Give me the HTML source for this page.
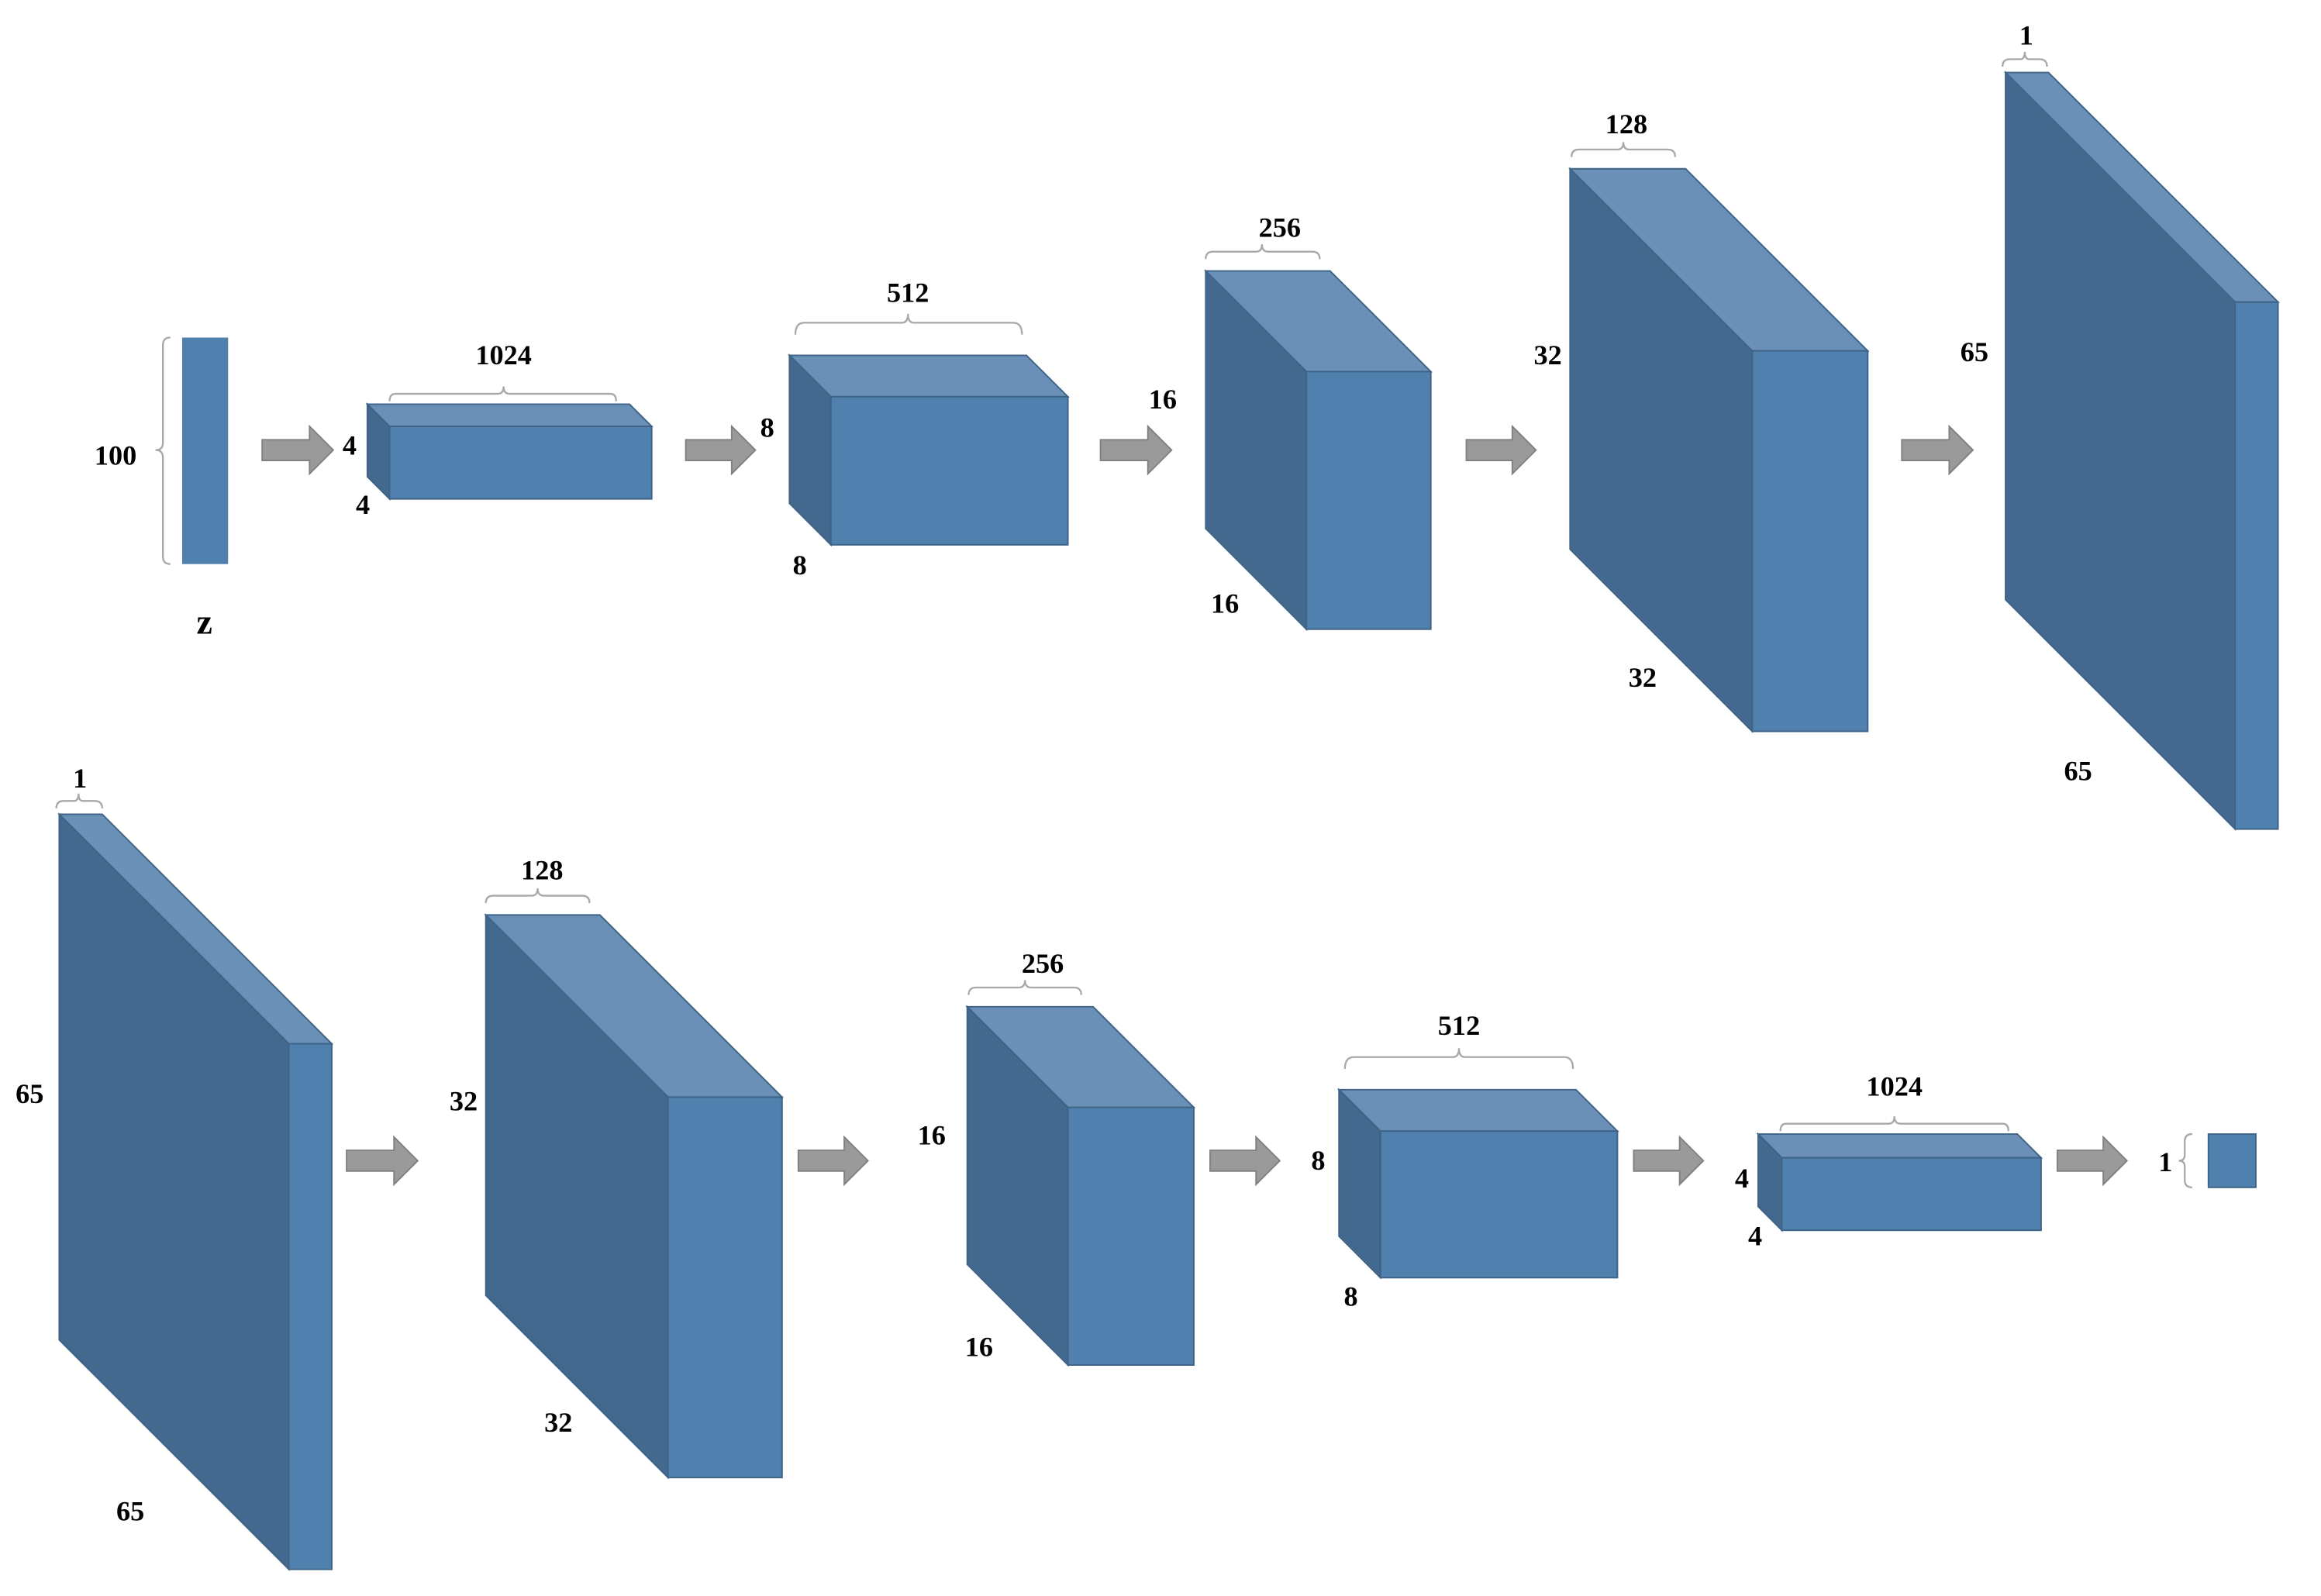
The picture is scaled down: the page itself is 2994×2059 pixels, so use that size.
<!DOCTYPE html>
<html><head><meta charset="utf-8"><style>
html,body{margin:0;padding:0;background:#fff;}
svg{display:block;}
text{font-family:"Liberation Serif",serif;font-weight:bold;fill:#000;font-size:19px;text-anchor:middle;}
.t{fill:#6a90b7;stroke:#3f6386;stroke-width:1;}
.s{fill:#43698e;stroke:#3f6386;stroke-width:1;}
.f{fill:#4f80ae;stroke:#3f6386;stroke-width:1;}
.a{fill:#9a9a9a;stroke:#808080;stroke-width:1;}
.b{fill:none;stroke:#a8a8a8;stroke-width:1.2;}
</style></head><body>
<svg width="2994" height="2059" viewBox="0 0 1567 1078" preserveAspectRatio="none" xmlns="http://www.w3.org/2000/svg">
<rect x="123" y="228" width="31" height="153" fill="#4f80ae"/>
<path class="b" d="M115,228 Q110,228 110,233 V299 Q110,304 105,304 Q110,304 110,309 V376 Q110,381 115,381"/>
<text x="78" y="314">100</text>
<text x="138" y="428" style="font-size:24px">z</text>

<polygon class="t" points="248,273 425,273 440,288 263,288"/>
<polygon class="s" points="248,273 263,288 263,337 248,322"/>
<rect class="f" x="263" y="288" width="177" height="49"/>
<path class="b" d="M263,271 Q263,266 267,266 H336 Q340,266 340,261 Q340,266 344,266 H412 Q416,266 416,271"/>
<text x="340" y="246">1024</text><text x="236" y="307">4</text><text x="245" y="347">4</text>

<polygon class="t" points="533,240 693,240 721,268 561,268"/>
<polygon class="s" points="533,240 561,268 561,368 533,340"/>
<rect class="f" x="561" y="268" width="160" height="100"/>
<path class="b" d="M537,226 Q537,218 543,218 H609 Q613,218 613,212 Q613,218 617,218 H684 Q690,218 690,226"/>
<text x="613" y="204">512</text><text x="518" y="295">8</text><text x="540" y="388">8</text>

<polygon class="t" points="814,183 898,183 966,251 882,251"/>
<polygon class="s" points="814,183 882,251 882,425 814,357"/>
<rect class="f" x="882" y="251" width="84" height="174"/>
<path class="b" d="M814,175 Q814,170 819,170 H848 Q852,170 852,165 Q852,170 856,170 H886 Q891,170 891,175"/>
<text x="864" y="160">256</text><text x="785" y="276">16</text><text x="827" y="414">16</text>

<polygon class="t" points="1060,114 1138,114 1261,237 1183,237"/>
<polygon class="s" points="1060,114 1183,237 1183,494 1060,371"/>
<rect class="f" x="1183" y="237" width="78" height="257"/>
<path class="b" d="M1061,106 Q1061,101 1066,101 H1092 Q1096,101 1096,96 Q1096,101 1100,101 H1126 Q1131,101 1131,106"/>
<text x="1098" y="90">128</text><text x="1045" y="246">32</text><text x="1109" y="464">32</text>

<polygon class="t" points="1354,49 1383,49 1538,204 1509,204"/>
<polygon class="s" points="1354,49 1509,204 1509,560 1354,405"/>
<rect class="f" x="1509" y="204" width="29" height="356"/>
<path class="b" d="M1352,45 Q1352,40 1357,40 H1364 Q1367,40 1367,35 Q1367,40 1370,40 H1377 Q1382,40 1382,45"/>
<text x="1368" y="30">1</text><text x="1333" y="244">65</text><text x="1403" y="527">65</text>

<path class="a" d="M177,297 h32 v-9 l16,16 l-16,16 v-9 h-32 z"/>
<path class="a" d="M463,297 h31 v-9 l16,16 l-16,16 v-9 h-31 z"/>
<path class="a" d="M743,297 h32 v-9 l16,16 l-16,16 v-9 h-32 z"/>
<path class="a" d="M990,297 h31 v-9 l16,16 l-16,16 v-9 h-31 z"/>
<path class="a" d="M1284,297 h32 v-9 l16,16 l-16,16 v-9 h-32 z"/>

<polygon class="t" points="40,550 69,550 224,705 195,705"/>
<polygon class="s" points="40,550 195,705 195,1060 40,905"/>
<rect class="f" x="195" y="705" width="29" height="355"/>
<path class="b" d="M38,546 Q38,541 43,541 H50 Q53,541 53,536 Q53,541 56,541 H64 Q69,541 69,546"/>
<text x="54" y="532">1</text><text x="20" y="745">65</text><text x="88" y="1027">65</text>

<polygon class="t" points="328,618 405,618 528,741 451,741"/>
<polygon class="s" points="328,618 451,741 451,998 328,875"/>
<rect class="f" x="451" y="741" width="77" height="257"/>
<path class="b" d="M328,610 Q328,605 333,605 H359 Q363,605 363,600 Q363,605 367,605 H393 Q398,605 398,610"/>
<text x="366" y="594">128</text><text x="313" y="750">32</text><text x="377" y="967">32</text>

<polygon class="t" points="653,680 738,680 806,748 721,748"/>
<polygon class="s" points="653,680 721,748 721,922 653,854"/>
<rect class="f" x="721" y="748" width="85" height="174"/>
<path class="b" d="M654,672 Q654,667 659,667 H688 Q692,667 692,662 Q692,667 696,667 H725 Q730,667 730,672"/>
<text x="704" y="657">256</text><text x="629" y="773">16</text><text x="661" y="916">16</text>

<polygon class="t" points="904,736 1064,736 1092,764 932,764"/>
<polygon class="s" points="904,736 932,764 932,863 904,835"/>
<rect class="f" x="932" y="764" width="160" height="99"/>
<path class="b" d="M908,722 Q908,714 914,714 H981 Q985,714 985,708 Q985,714 989,714 H1056 Q1062,714 1062,722"/>
<text x="985" y="699">512</text><text x="890" y="790">8</text><text x="912" y="882">8</text>

<polygon class="t" points="1187,766 1362,766 1378,782 1203,782"/>
<polygon class="s" points="1187,766 1203,782 1203,831 1187,815"/>
<rect class="f" x="1203" y="782" width="175" height="49"/>
<path class="b" d="M1202,764 Q1202,759 1206,759 H1275 Q1279,759 1279,754 Q1279,759 1283,759 H1352 Q1356,759 1356,764"/>
<text x="1279" y="740">1024</text><text x="1176" y="802">4</text><text x="1185" y="841">4</text>

<rect class="f" x="1491" y="766" width="32" height="36"/>
<path class="b" d="M1480,766 Q1475,766 1475,771 V780 Q1475,784 1471,784 Q1475,784 1475,788 V797 Q1475,802 1480,802"/>
<text x="1462" y="791">1</text>

<path class="a" d="M234,777 h32 v-9 l16,16 l-16,16 v-9 h-32 z"/>
<path class="a" d="M539,777 h31 v-9 l16,16 l-16,16 v-9 h-31 z"/>
<path class="a" d="M817,777 h31 v-9 l16,16 l-16,16 v-9 h-31 z"/>
<path class="a" d="M1103,777 h31 v-9 l16,16 l-16,16 v-9 h-31 z"/>
<path class="a" d="M1389,777 h31 v-9 l16,16 l-16,16 v-9 h-31 z"/>
</svg>
</body></html>
